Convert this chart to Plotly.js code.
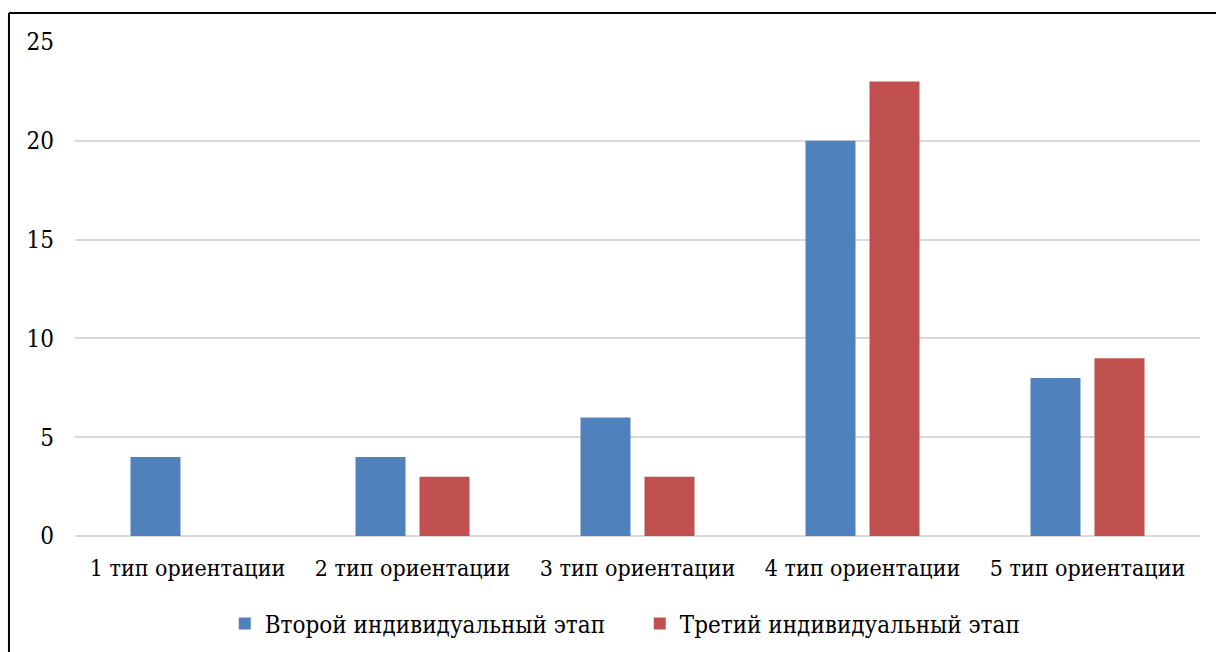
<!DOCTYPE html>
<html>
<head>
<meta charset="utf-8">
<script src="https://cdn.plot.ly/plotly-3.0.1.min.js"></script>
<style>html,body{margin:0;padding:0;background:#fff;}#chart{width:1216px;height:652px;}</style>
</head>
<body>
<div id="chart"></div>
<script>
var categories = ["1 тип ориентации", "2 тип ориентации", "3 тип ориентации", "4 тип ориентации", "5 тип ориентации"];
var seriesNames = ["Второй индивидуальный этап", "Третий индивидуальный этап"];
var secondStage = [4, 4, 6, 20, 8];
var thirdStage = [0, 3, 3, 23, 9];
var yTicks = [0, 5, 10, 15, 20, 25];

var font = "DejaVu Serif Condensed, DejaVu Serif, serif";
var traces = [
  {type: "bar", name: seriesNames[0], x: categories, y: secondStage, marker: {color: "#4F81BD"}},
  {type: "bar", name: seriesNames[1], x: categories, y: thirdStage, marker: {color: "#C0504D"}}
];
var layout = {
  width: 1216, height: 652,
  margin: {l: 75, r: 16, t: 42, b: 116},
  paper_bgcolor: "#ffffff", plot_bgcolor: "#ffffff",
  barmode: "group", bargap: 0.431, bargroupgap: 0.219,
  font: {family: font, size: 23, color: "#000000"},
  xaxis: {type: "category", automargin: false, showgrid: false, showline: false, zeroline: false, ticks: "", ticklabelstandoff: 16,
          tickfont: {family: font, size: 23, color: "#000"}},
  yaxis: {range: [0, 25], automargin: false, tickvals: yTicks, showgrid: true, gridcolor: "#d9d9d9", gridwidth: 2,
          zeroline: true, zerolinecolor: "#d9d9d9", zerolinewidth: 2, showline: false, ticks: "",
          ticklabelstandoff: 20, tickfont: {family: font, size: 24, color: "#000"}},
  showlegend: true,
  legend: {orientation: "h", x: 0.502, xanchor: "center", yref: "container", y: 0.043, yanchor: "middle",
           entrywidth: 370, entrywidthmode: "pixels",
           font: {family: font, size: 24, color: "#000"}, itemclick: false, traceorder: "normal"},
  shapes: [
    {type: "line", xref: "paper", yref: "paper", x0: -0.0587, x1: 1.02, y0: 1.0587, y1: 1.0587, line: {color: "#000", width: 2}},
    {type: "line", xref: "paper", yref: "paper", x0: -0.0587, x1: -0.0587, y0: 1.0587, y1: -0.25, line: {color: "#000", width: 2}}
  ]
};
Plotly.newPlot("chart", traces, layout, {displayModeBar: false, staticPlot: true});
</script>
</body>
</html>
